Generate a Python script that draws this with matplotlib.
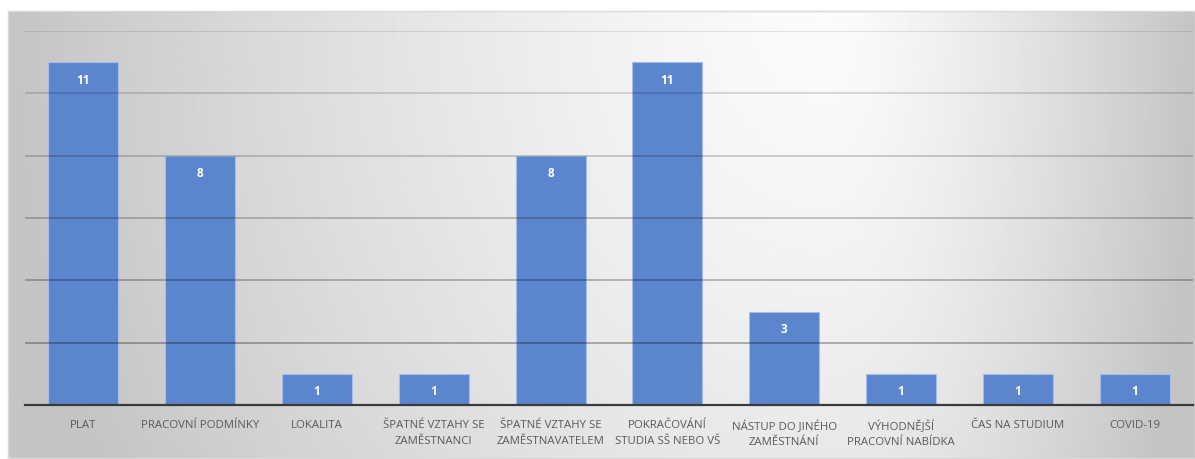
import numpy as np
import matplotlib.pyplot as plt

# reasons for leaving, number of answers
categories = ['PLAT', 'PRACOVNÍ PODMÍNKY', 'LOKALITA', 'ŠPATNÉ VZTAHY SE\nZAMĚSTNANCI',
              'ŠPATNÉ VZTAHY SE\nZAMĚSTNAVATELEM', 'POKRAČOVÁNÍ\nSTUDIA SŠ NEBO VŠ',
              'NÁSTUP DO JINÉHO\nZAMĚSTNÁNÍ', 'VÝHODNĚJŠÍ\nPRACOVNÍ NABÍDKA',
              'ČAS NA STUDIUM', 'COVID-19']
counts = [11, 8, 1, 1, 8, 11, 3, 1, 1, 1]
grid_ticks = [2, 4, 6, 8, 10, 12]

plt.rcParams['font.family'] = ['Open Sans', 'DejaVu Sans']

W, H = 1195, 459
fig = plt.figure(figsize=(W / 100, H / 100), dpi=100)

# gray panel with a soft light spot near the top right
bg = fig.add_axes([8 / W, 1 / H, (W - 8) / W, 447 / H])
ny, nx = 200, 600
xx, yy = np.meshgrid(np.linspace(0, 1, nx), np.linspace(0, 1, ny))
cx = 0.69
dx = np.where(xx < cx, (cx - xx) / cx, (xx - cx) / (1 - cx))
dy = yy * 0.45
t = np.clip(np.sqrt(dx ** 2 + dy ** 2), 0, 1) ** 1.35
shade = 0.985 - t * (0.985 - 0.77)
bg.imshow(shade, cmap='gray', vmin=0, vmax=1, aspect='auto',
          extent=[0, 1, 0, 1], origin='upper', interpolation='bilinear')
bg.set_xlim(0, 1)
bg.set_ylim(0, 1)
bg.set_xticks([])
bg.set_yticks([])
for s in bg.spines.values():
    s.set_color('#d9d9d9')
    s.set_linewidth(1)

ax = fig.add_axes([25 / W, 54 / H, 1168 / W, 374 / H])
ax.patch.set_alpha(0)
x = np.arange(len(categories))
bars = ax.bar(x, counts, width=0.6, color='#5b86cd', edgecolor='#a5bde8',
              linewidth=0.8, zorder=2)

# gridlines drawn over the bars, darker towards the bottom
for i, g in enumerate(grid_ticks):
    a = 0.36 - 0.045 * i
    ax.axhline(g, color='black', alpha=a, linewidth=1.1, zorder=3)

for b, v in zip(bars, counts):
    ax.annotate(str(v), (b.get_x() + b.get_width() / 2, v), xytext=(0, -13),
                textcoords='offset points', ha='center', va='center',
                color='white', fontsize=8.5, fontweight='bold', zorder=4)

ax.set_xlim(-0.5, len(categories) - 0.5)
ax.set_ylim(0, 12)
ax.set_yticks([])
ax.set_xticks(x)
ax.set_xticklabels(categories, fontsize=8.2, color='#595959', linespacing=1.55)
ax.tick_params(axis='x', length=0, pad=11)
for side in ['top', 'right', 'left']:
    ax.spines[side].set_visible(False)
ax.spines['bottom'].set_color('#3a3a3a')
ax.spines['bottom'].set_linewidth(1.6)
ax.spines['bottom'].set_zorder(5)

fig.savefig('out.png', dpi=100)
